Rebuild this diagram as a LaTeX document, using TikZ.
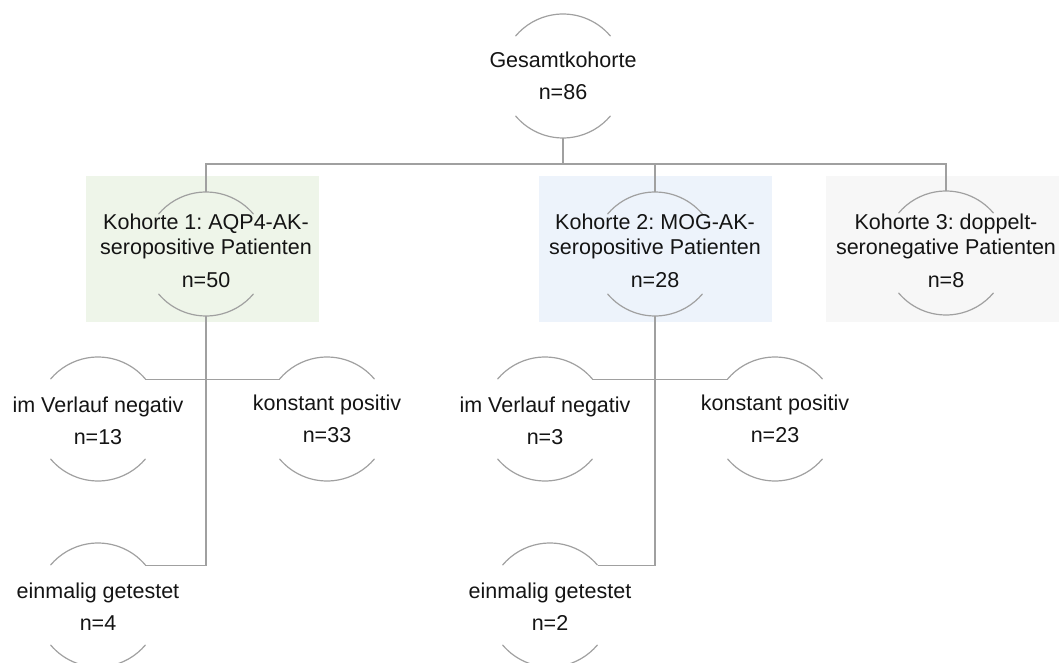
\documentclass[tikz,border=0pt]{standalone}
\usepackage{fontspec}
\setmainfont{Liberation Sans}
\frenchspacing
\definecolor{linec}{RGB}{160,160,160}
\definecolor{greenbg}{RGB}{238,245,233}
\definecolor{bluebg}{RGB}{237,243,251}
\definecolor{graybg}{RGB}{247,247,247}
\definecolor{txt}{RGB}{20,20,20}
\begin{document}
\begin{tikzpicture}[x=1pt,y=-1pt,
  ring/.style={circle, minimum size=124pt, inner sep=0pt, outer sep=0pt},
  lbl/.style={align=center, font=\fontsize{21.5}{25}\selectfont\frenchspacing, text=txt, inner sep=0pt},
  arcline/.style={draw=linec, line width=1.2pt},
  conn/.style={draw=linec, line width=1.2pt},
  cohort/.style={minimum width=233pt, minimum height=146pt, inner sep=0pt, draw=none}]
\useasboundingbox (0,0) rectangle (1060,663);
% background boxes
\node[cohort, fill=greenbg] (box1) at (202.5,249) {};
\node[cohort, fill=bluebg]  (box2) at (655.5,249) {};
\node[cohort, fill=graybg]  (box3) at (942.5,249) {};
% rings
\node[ring] (g)  at (563,76)  {};
\node[ring] (k1) at (206,254) {};
\node[ring] (k2) at (655,254) {};
\node[ring] (k3) at (946,253) {};
\node[ring] (a1) at (98,419)  {};
\node[ring] (b1) at (327,419) {};
\node[ring] (c1) at (98,605)  {};
\node[ring] (a2) at (545,419) {};
\node[ring] (b2) at (775,419) {};
\node[ring] (c2) at (550,605) {};
\foreach \n in {g,k1,k2,k3,a1,b1,c1,a2,b2,c2} {
  \draw[arcline] (\n.40) arc[start angle=40, end angle=140, radius=62pt];
  \draw[arcline] (\n.220) arc[start angle=220, end angle=320, radius=62pt];
}
% labels
\node[lbl] (gt)  at (563,76)  {Gesamtkohorte\\[7pt]n=86};
\node[lbl] (k1t) at (206,251) {Kohorte 1: AQP4-AK-\\seropositive Patienten\\[8pt]n=50};
\node[lbl] (k2t) at (655,251) {Kohorte 2: MOG-AK-\\seropositive Patienten\\[8pt]n=28};
\node[lbl] (k3t) at (946,251) {Kohorte 3: doppelt-\\seronegative Patienten\\[8pt]n=8};
\node[lbl] (a1t) at (98,421)  {im Verlauf negativ\\[7pt]n=13};
\node[lbl] (b1t) at (327,419) {konstant positiv\\[7pt]n=33};
\node[lbl] (c1t) at (98,607)  {einmalig getestet\\[7pt]n=4};
\node[lbl] (a2t) at (545,421) {im Verlauf negativ\\[7pt]n=3};
\node[lbl] (b2t) at (775,419) {konstant positiv\\[7pt]n=23};
\node[lbl] (c2t) at (550,607) {einmalig getestet\\[7pt]n=2};
% connectors
\coordinate (bar) at (563,164);
\draw[conn] (g.south) -- (bar);
\draw[conn] (k1.north) |- (bar) -| (k3.north);
\draw[conn] (bar -| k2.north) -- (k2.north);
\draw[conn] (k1.south) -- (k1.south |- c1.40) -- (c1.40);
\draw[conn] (a1.40) -- (b1.140);
\draw[conn] (k2.south) -- (k2.south |- c2.40) -- (c2.40);
\draw[conn] (a2.40) -- (b2.140);
\end{tikzpicture}
\end{document}
